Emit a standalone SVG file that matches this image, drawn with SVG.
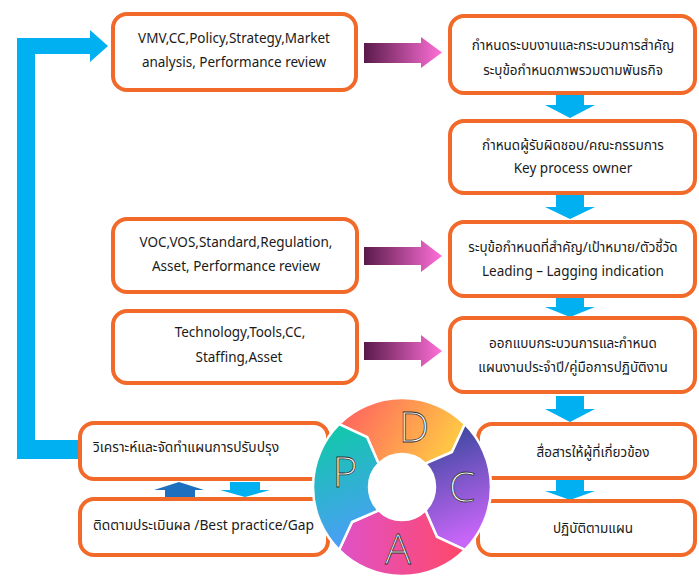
<svg xmlns="http://www.w3.org/2000/svg" width="699" height="577" viewBox="0 0 699 577">
<style>
.box{fill:#fff;stroke:#f26a2a;stroke-width:4}
.t{font-family:"Noto Sans Thai","Leelawadee UI","Tahoma","Liberation Sans","Noto Sans",sans-serif;font-size:13.5px;fill:#1a1a1a;text-anchor:middle}
.tl{text-anchor:start;font-size:13.8px}
.blue{fill:#00b0f0}
.pink{fill:url(#pk)}
.seg{stroke:#fff;stroke-width:2.5;stroke-linejoin:round}
.L{font-family:"Open Sans","Liberation Sans",sans-serif;font-size:43px;font-weight:300;fill:#fff;stroke:#333;stroke-width:0.8;text-anchor:middle}
</style>
<defs>
<linearGradient id="pk" x1="0" y1="0" x2="1" y2="0"><stop offset="0" stop-color="#5a1a4a"/><stop offset="1" stop-color="#ff70d8"/></linearGradient>
<linearGradient id="gD" x1="0" y1="0" x2="1" y2="0.3"><stop offset="0" stop-color="#ff5a62"/><stop offset="1" stop-color="#ffc545"/></linearGradient>
<linearGradient id="gC" x1="0" y1="0" x2="0.2" y2="1"><stop offset="0" stop-color="#2c4595"/><stop offset="1" stop-color="#c866f8"/></linearGradient>
<linearGradient id="gA" x1="0" y1="0" x2="1" y2="0"><stop offset="0" stop-color="#e052c8"/><stop offset="1" stop-color="#ff4868"/></linearGradient>
<linearGradient id="gP" x1="0" y1="0" x2="0.2" y2="1"><stop offset="0" stop-color="#0ccba3"/><stop offset="1" stop-color="#4a9ff5"/></linearGradient>
</defs>

<g id="connectors">
<path class="blue" d="M17,38 L90,38 L90,30 L108,46 L90,62 L90,54 L35,54 L35,440 L80,440 L80,459 L17,459 Z"/>
<path class="pink" d="M364,43 L421,43 L421,37 L442,52.5 L421,68 L421,63 L364,63 Z"/>
<path class="pink" d="M364,247 L421,247 L421,240 L442,256 L421,272 L421,265 L364,265 Z"/>
<path class="pink" d="M364,342 L421,342 L421,335 L442,351 L421,367 L421,360 L364,360 Z"/>
<path class="blue" d="M556,94 L584,94 L584,105 L595,105 L570,118 L545,105 L556,105 Z"/>
<path class="blue" d="M556,195 L584,195 L584,207 L595,207 L570,219 L545,207 L556,207 Z"/>
<path class="blue" d="M556,298 L584,298 L584,307 L595,307 L570,317 L545,307 L556,307 Z"/>
<path class="blue" d="M556,396 L584,396 L584,409 L595,409 L570,422 L545,409 L556,409 Z"/>
<path class="blue" d="M556,480 L584,480 L584,491 L595,491 L570,500 L545,491 L556,491 Z"/>
<path fill="#1f6fbf" d="M154,490 L179,482 L204,490 L195,490 L195,497 L165,497 L165,490 Z"/>
<path class="blue" d="M230,482 L260,482 L260,490 L270,490 L245,497 L220,490 L230,490 Z"/>
</g>

<g id="n-vmv"><rect class="box" x="113" y="14" width="243" height="76" rx="14"/>
<text class="t" x="234" y="43">VMV,CC,Policy,Strategy,Market</text>
<text class="t" x="234" y="67">analysis, Performance review</text></g>

<g id="n-r1"><rect class="box" x="450" y="16" width="245" height="77" rx="14"/>
<text class="t" x="573" y="50">กำหนดระบบงานและกระบวนการสำคัญ</text>
<text class="t" x="573" y="75">ระบุข้อกำหนดภาพรวมตามพันธกิจ</text></g>

<g id="n-r2"><rect class="box" x="450" y="121" width="245" height="72" rx="14"/>
<text class="t" x="573" y="150">กำหนดผู้รับผิดชอบ/คณะกรรมการ</text>
<text class="t" x="573" y="173">Key process owner</text></g>

<g id="n-voc"><rect class="box" x="113" y="219" width="244" height="73" rx="14"/>
<text class="t" x="236" y="247">VOC,VOS,Standard,Regulation,</text>
<text class="t" x="236" y="271">Asset, Performance review</text></g>

<g id="n-r3"><rect class="box" x="450" y="222" width="245" height="74" rx="14"/>
<text class="t" x="573" y="252">ระบุข้อกำหนดที่สำคัญ/เป้าหมาย/ตัวชี้วัด</text>
<text class="t" x="573" y="276">Leading – Lagging indication</text></g>

<g id="n-tech"><rect class="box" x="113" y="311" width="244" height="72" rx="14"/>
<text class="t" x="240" y="337">Technology,Tools,CC,</text>
<text class="t" x="239" y="362">Staffing,Asset</text></g>

<g id="n-r4"><rect class="box" x="450" y="318" width="245" height="74" rx="14"/>
<text class="t" x="573" y="348">ออกแบบกระบวนการและกำหนด</text>
<text class="t" x="573" y="372">แผนงานประจำปี/คู่มือการปฏิบัติงาน</text></g>

<g id="n-r5"><rect class="box" x="478" y="424" width="217" height="54" rx="14"/>
<text class="t" x="593" y="457">สื่อสารให้ผู้ที่เกี่ยวข้อง</text></g>

<g id="n-r6"><rect class="box" x="478" y="501" width="217" height="54" rx="14"/>
<text class="t" x="593" y="533">ปฏิบัติตามแผน</text></g>

<g id="n-l4"><rect class="box" x="80" y="423" width="248" height="56" rx="14"/>
<text class="t tl" x="93" y="452">วิเคราะห์และจัดทำแผนการปรับปรุง</text></g>

<g id="n-l5"><rect class="box" x="80" y="499" width="248" height="56" rx="14"/>
<text class="t tl" x="93" y="530">ติดตามประเมินผล /Best practice/Gap</text></g>

<g id="pdca">
<path class="seg" fill="url(#gD)" d="M339.07,424.07 A89 89 0 0 1 464.93,424.07 L451.97,452.01 L425.33,463.67 A33 33 0 0 0 378.67,463.67 L367.01,437.03 Z"/>
<path class="seg" fill="url(#gC)" d="M464.93,424.07 A89 89 0 0 1 464.93,549.93 L436.99,536.97 L425.33,510.33 A33 33 0 0 0 425.33,463.67 L451.97,452.01 Z"/>
<path class="seg" fill="url(#gA)" d="M464.93,549.93 A89 89 0 0 1 339.07,549.93 L352.03,521.99 L378.67,510.33 A33 33 0 0 0 425.33,510.33 L436.99,536.97 Z"/>
<path class="seg" fill="url(#gP)" d="M339.07,549.93 A89 89 0 0 1 339.07,424.07 L367.01,437.03 L378.67,463.67 A33 33 0 0 0 378.67,510.33 L352.03,521.99 Z"/>
<text class="L" x="414" y="442">D</text>
<text class="L" x="462" y="502">C</text>
<text class="L" x="398" y="564">A</text>
<text class="L" x="345" y="487">P</text>
</g>
</svg>
